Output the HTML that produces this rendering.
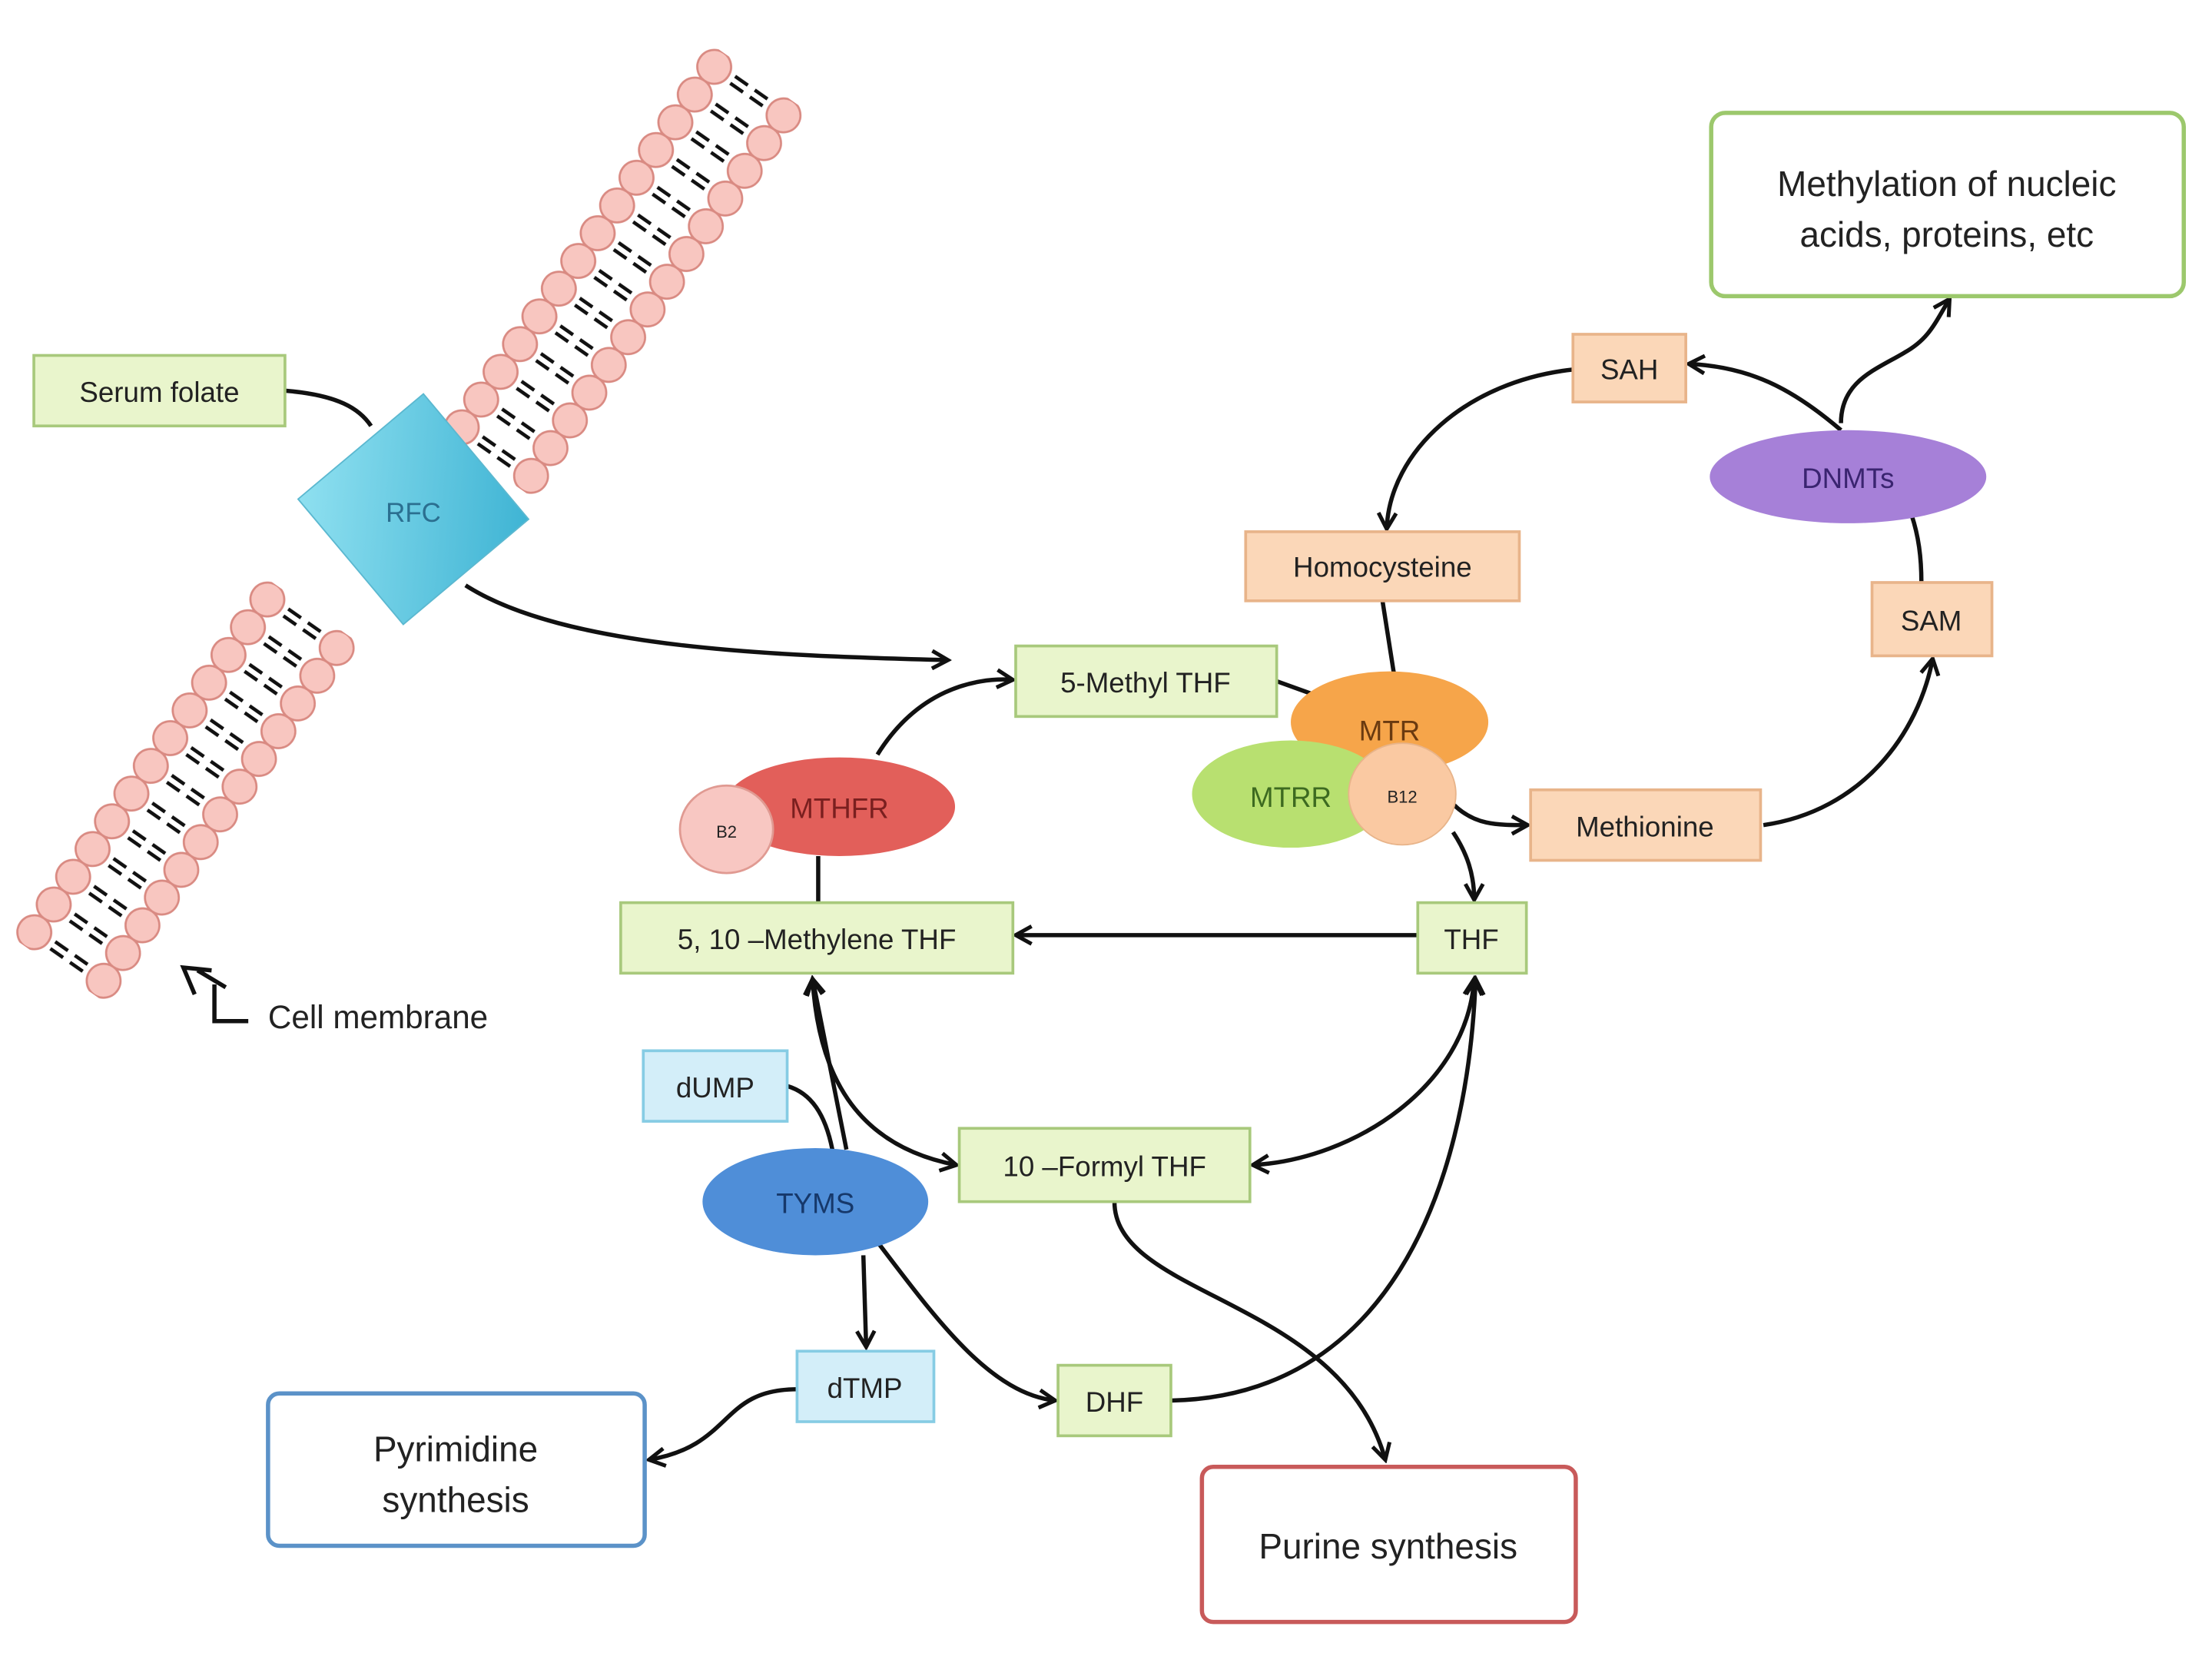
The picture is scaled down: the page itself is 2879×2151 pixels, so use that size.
<!DOCTYPE html>
<html><head><meta charset="utf-8"><style>
html,body{margin:0;padding:0;background:#fff;}
svg{display:block;}
text{font-family:"Liberation Sans",sans-serif;fill:#222;}
</style></head><body>
<svg width="2879" height="2151" viewBox="0 0 1568 1172" preserveAspectRatio="none" xmlns="http://www.w3.org/2000/svg">
<defs>
<pattern id="mem" width="24" height="86" patternUnits="userSpaceOnUse">
<circle cx="12" cy="13" r="12" fill="#f8c6c0" stroke="#d98a82" stroke-width="1.5"/>
<circle cx="12" cy="73" r="12" fill="#f8c6c0" stroke="#d98a82" stroke-width="1.5"/>
<line x1="9" y1="29" x2="9" y2="40" stroke="#111" stroke-width="2.5"/>
<line x1="15" y1="29" x2="15" y2="40" stroke="#111" stroke-width="2.5"/>
<line x1="9" y1="46" x2="9" y2="57" stroke="#111" stroke-width="2.5"/>
<line x1="15" y1="46" x2="15" y2="57" stroke="#111" stroke-width="2.5"/>
</pattern>
<marker id="ar" viewBox="0 0 12 12" refX="10" refY="6" markerWidth="5" markerHeight="5" orient="auto-start-reverse" markerUnits="strokeWidth">
<path d="M1,1 L10,6 L1,11" fill="none" stroke="#111" stroke-width="2.2"/>
</marker>
<linearGradient id="rfc" x1="0" y1="0" x2="1" y2="1"><stop offset="0" stop-color="#8fe0f0"/><stop offset="1" stop-color="#3fb4d4"/></linearGradient>
</defs>

<!-- membrane -->
<g transform="translate(345,330) rotate(-55) translate(0,-43)"><rect x="0" y="0" width="336" height="86" fill="url(#mem)"/></g>
<g transform="translate(42,688) rotate(-55) translate(0,-43)"><rect x="0" y="0" width="312" height="86" fill="url(#mem)"/></g>

<!-- RFC -->
<g transform="translate(293,361) rotate(-40)">
<rect x="-58" y="-58" width="116" height="116" fill="url(#rfc)" stroke="#5bb8d0" stroke-width="1"/>
</g>
<text x="293" y="370" font-size="19" text-anchor="middle" style="fill:#2b6f90">RFC</text>

<g fill="none" stroke="#111" stroke-width="3">
<path d="M202,277 C240,280 255,290 263,302"/>
<path d="M330,415 C400,460 550,465 672,468" marker-end="url(#ar)"/>
<path d="M622,535 C650,490 690,480 718,482" marker-end="url(#ar)"/>
<path d="M905,483 L930,492"/>
<path d="M980,426 L988,477"/>
<path d="M1030,570 C1045,585 1060,585 1083,585" marker-end="url(#ar)"/>
<path d="M1030,590 C1040,605 1045,620 1045,638" marker-end="url(#ar)"/>
<path d="M1250,585 C1320,575 1360,520 1370,467" marker-end="url(#ar)"/>
<path d="M1362,413 C1362,395 1360,380 1355,365"/>
<path d="M1305,305 C1270,275 1240,260 1197,258" marker-end="url(#ar)"/>
<path d="M1115,262 C1040,270 985,320 983,375" marker-end="url(#ar)"/>
<path d="M1305,300 C1305,270 1330,262 1350,250 C1368,240 1372,228 1382,212" marker-end="url(#ar)"/>
<path d="M1005,663 L720,663" marker-end="url(#ar)"/>
<path d="M580,607 L580,640"/>
<path d="M576,694 C580,760 605,812 678,826" marker-start="url(#ar)" marker-end="url(#ar)"/>
<path d="M1045,694 C1040,770 960,822 888,826" marker-start="url(#ar)" marker-end="url(#ar)"/>
<path d="M558,770 C575,775 585,790 590,815"/>
<path d="M600,815 L576,694" marker-end="url(#ar)"/>
<path d="M612,890 L614,955" marker-end="url(#ar)"/>
<path d="M620,878 C660,930 700,988 748,993" marker-end="url(#ar)"/>
<path d="M830,993 C980,990 1040,850 1046,694" marker-end="url(#ar)"/>
<path d="M790,852 C790,920 950,920 982,1035" marker-end="url(#ar)"/>
<path d="M565,985 C510,985 520,1025 460,1035" marker-end="url(#ar)"/>
<path d="M176,724 L152,724 L152,698"/>
<path d="M160,700 L140,688 M138,705 L130,686 L150,688"/>
</g>

<!-- green boxes -->
<g fill="#e9f5cc" stroke="#a8c97c" stroke-width="2">
<rect x="24" y="252" width="178" height="50"/>
<rect x="720" y="458" width="185" height="50"/>
<rect x="1005" y="640" width="77" height="50"/>
<rect x="440" y="640" width="278" height="50"/>
<rect x="680" y="800" width="206" height="52"/>
<rect x="750" y="968" width="80" height="50"/>
</g>
<!-- orange boxes -->
<g fill="#fbd7b8" stroke="#e8b48a" stroke-width="2">
<rect x="883" y="377" width="194" height="49"/>
<rect x="1115" y="237" width="80" height="48"/>
<rect x="1327" y="413" width="85" height="52"/>
<rect x="1085" y="560" width="163" height="50"/>
</g>
<!-- blue boxes -->
<g fill="#d3eef9" stroke="#86cce4" stroke-width="2">
<rect x="456" y="745" width="102" height="50"/>
<rect x="565" y="958" width="97" height="50"/>
</g>
<!-- big boxes -->
<rect x="1213" y="80" width="335" height="130" rx="10" fill="#fff" stroke="#9cc86c" stroke-width="3"/>
<rect x="190" y="988" width="267" height="108" rx="8" fill="#fff" stroke="#5b92c8" stroke-width="3"/>
<rect x="852" y="1040" width="265" height="110" rx="8" fill="#fff" stroke="#c85a5a" stroke-width="3"/>

<!-- enzymes -->
<ellipse cx="595" cy="572" rx="82" ry="35" fill="#e25f5a"/>
<ellipse cx="515" cy="588" rx="33" ry="31" fill="#f8c7c2" stroke="#e09a92" stroke-width="1.5"/>
<ellipse cx="985" cy="512" rx="70" ry="36" fill="#f6a54a"/>
<ellipse cx="915" cy="563" rx="70" ry="38" fill="#b8e070"/>
<ellipse cx="994" cy="563" rx="38" ry="36" fill="#fac9a2" stroke="#e8b48a" stroke-width="1"/>
<ellipse cx="1310" cy="338" rx="98" ry="33" fill="#a680d8"/>
<ellipse cx="578" cy="852" rx="80" ry="38" fill="#4f8ed8"/>

<!-- labels -->
<g font-size="20">
<text x="113" y="285" text-anchor="middle">Serum folate</text>
<text x="812" y="491" text-anchor="middle">5-Methyl THF</text>
<text x="980" y="409" text-anchor="middle">Homocysteine</text>
<text x="1155" y="269" text-anchor="middle">SAH</text>
<text x="1369" y="447" text-anchor="middle">SAM</text>
<text x="1166" y="593" text-anchor="middle">Methionine</text>
<text x="1043" y="673" text-anchor="middle">THF</text>
<text x="579" y="673" text-anchor="middle">5, 10 –Methylene THF</text>
<text x="507" y="778" text-anchor="middle">dUMP</text>
<text x="783" y="834" text-anchor="middle">10 –Formyl THF</text>
<text x="613" y="991" text-anchor="middle">dTMP</text>
<text x="790" y="1001" text-anchor="middle">DHF</text>
<text x="595" y="580" text-anchor="middle" style="fill:#7a1f1f">MTHFR</text>
<text x="985" y="525" text-anchor="middle" style="fill:#6a3a10">MTR</text>
<text x="915" y="572" text-anchor="middle" style="fill:#3d6a20">MTRR</text>
<text x="1310" y="346" text-anchor="middle" style="fill:#3a2470">DNMTs</text>
<text x="578" y="860" text-anchor="middle" style="fill:#16386a">TYMS</text>
<text x="190" y="729" font-size="23">Cell membrane</text>
</g>
<text x="515" y="594" font-size="12" text-anchor="middle">B2</text>
<text x="994" y="569" font-size="12" text-anchor="middle">B12</text>
<g font-size="25" text-anchor="middle">
<text x="1380" y="139">Methylation of nucleic</text>
<text x="1380" y="175">acids, proteins, etc</text>
<text x="323" y="1036">Pyrimidine</text>
<text x="323" y="1072">synthesis</text>
<text x="984" y="1105">Purine synthesis</text>
</g>
</svg>
</body></html>
